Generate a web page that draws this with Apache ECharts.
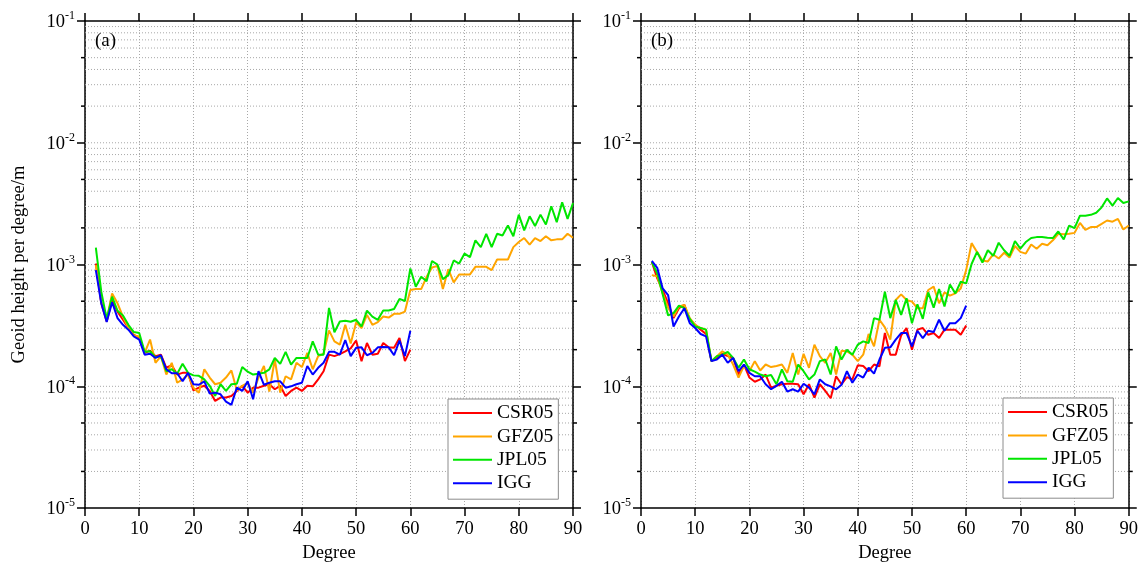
<!DOCTYPE html>
<html><head><meta charset="utf-8">
<script src="https://cdn.jsdelivr.net/npm/echarts@6/dist/echarts.min.js"></script>
<style>html,body{margin:0;padding:0;background:#fff}#c{width:1141px;height:568px}</style>
</head><body><div id="c"></div><script>
// ---------- data ----------
const degrees = [2,3,4,5,6,7,8,9,10,11,12,13,14,15,16,17,18,19,20,21,22,23,24,25,26,27,28,29,30,31,32,33,34,35,36,37,38,39,40,41,42,43,44,45,46,47,48,49,50,51,52,53,54,55,56,57,58,59,60,61,62,63,64,65,66,67,68,69,70,71,72,73,74,75,76,77,78,79,80,81,82,83,84,85,86,87,88,89,90];

// panel (a)
const csrA = [1.02e-3,4.81e-4,3.41e-4,5.12e-4,4.11e-4,3.52e-4,3.01e-4,2.65e-4,2.52e-4,
  1.88e-4,1.96e-4,1.77e-4,1.82e-4,1.42e-4,1.49e-4,1.25e-4,1.29e-4,1.29e-4,9.27e-5,
  9.75e-5,1.01e-4,9.16e-5,7.59e-5,8.09e-5,8.09e-5,8.34e-5,9.16e-5,1.01e-4,8.87e-5,
  9.75e-5,9.75e-5,1.01e-4,1.04e-4,9.46e-5,1.01e-4,8.34e-5,9.16e-5,9.75e-5,9.16e-5,
  1.01e-4,1.0e-4,1.14e-4,1.33e-4,1.82e-4,1.77e-4,1.84e-4,1.94e-4,2.05e-4,2.38e-4,
  1.61e-4,2.27e-4,1.82e-4,1.85e-4,2.27e-4,2.09e-4,2.07e-4,2.49e-4,1.61e-4,2.0e-4];
const gfzA = [9.9e-4,4.96e-4,3.52e-4,5.8e-4,4.81e-4,3.74e-4,3.01e-4,2.62e-4,2.57e-4,
  1.88e-4,2.42e-4,1.56e-4,1.77e-4,1.25e-4,1.56e-4,1.07e-4,1.14e-4,1.25e-4,9.75e-5,
  8.87e-5,1.38e-4,1.18e-4,1.04e-4,1.07e-4,1.18e-4,1.35e-4,9.27e-5,1.01e-4,1.07e-4,
  8.87e-5,1.18e-4,1.47e-4,9.05e-5,1.66e-4,8.87e-5,1.21e-4,1.14e-4,1.56e-4,1.44e-4,
  1.88e-4,1.38e-4,1.77e-4,1.85e-4,2.88e-4,2.34e-4,2.2e-4,3.2e-4,2.25e-4,3.35e-4,
  3.01e-4,3.86e-4,3.2e-4,3.37e-4,3.74e-4,3.67e-4,3.94e-4,3.94e-4,4.11e-4,6.18e-4,
  6.29e-4,6.29e-4,7.93e-4,9.46e-4,9.75e-4,6.29e-4,9.16e-4,7.13e-4,8.28e-4,8.28e-4,
  8.3e-4,9.57e-4,9.57e-4,9.57e-4,9.0e-4,1.1e-3,1.1e-3,1.1e-3,1.39e-3,1.53e-3,
  1.65e-3,1.46e-3,1.65e-3,1.56e-3,1.71e-3,1.58e-3,1.61e-3,1.61e-3,1.79e-3,1.66e-3];
const jplA = [1.38e-3,5.98e-4,3.58e-4,5.45e-4,4.17e-4,3.82e-4,3.2e-4,2.79e-4,2.74e-4,
  1.92e-4,1.94e-4,1.73e-4,1.77e-4,1.33e-4,1.38e-4,1.27e-4,1.53e-4,1.29e-4,1.23e-4,
  1.22e-4,1.14e-4,1.01e-4,8.34e-5,1.04e-4,9.16e-5,1.04e-4,1.05e-4,1.44e-4,1.32e-4,
  1.25e-4,1.27e-4,1.29e-4,1.38e-4,1.71e-4,1.53e-4,1.92e-4,1.51e-4,1.71e-4,1.71e-4,
  1.71e-4,2.34e-4,1.82e-4,1.82e-4,4.4e-4,2.78e-4,3.41e-4,3.46e-4,3.39e-4,3.52e-4,
  3.1e-4,4.19e-4,3.74e-4,3.52e-4,4.19e-4,4.19e-4,4.32e-4,5.22e-4,5.02e-4,9.28e-4,
  6.58e-4,7.93e-4,7.31e-4,1.07e-3,1.0e-3,7.59e-4,8.19e-4,1.08e-3,1.02e-3,1.23e-3,
  1.15e-3,1.58e-3,1.39e-3,1.79e-3,1.39e-3,1.79e-3,1.73e-3,2.09e-3,1.71e-3,2.57e-3,
  1.91e-3,2.49e-3,2.07e-3,2.57e-3,2.13e-3,3.01e-3,2.23e-3,3.24e-3,2.37e-3,3.2e-3];
const iggA = [8.99e-4,4.81e-4,3.37e-4,4.9e-4,3.63e-4,3.2e-4,2.92e-4,2.57e-4,2.42e-4,
  1.82e-4,1.85e-4,1.71e-4,1.8e-4,1.38e-4,1.28e-4,1.28e-4,1.1e-4,1.29e-4,1.04e-4,
  1.03e-4,1.1e-4,8.71e-5,8.87e-5,8.6e-5,7.5e-5,7.05e-5,9.75e-5,9.16e-5,1.1e-4,
  7.83e-5,1.33e-4,1.03e-4,1.07e-4,1.1e-4,1.1e-4,9.75e-5,1.0e-4,1.04e-4,1.07e-4,
  1.47e-4,1.25e-4,1.42e-4,1.56e-4,1.92e-4,1.92e-4,1.82e-4,2.4e-4,1.77e-4,2.07e-4,
  2.09e-4,1.8e-4,1.88e-4,2.09e-4,2.1e-4,2.09e-4,1.8e-4,2.37e-4,1.77e-4,2.86e-4];

// panel (b)
const csrB = [1.05e-3,7.69e-4,6.18e-4,4.81e-4,3.63e-4,4.38e-4,4.66e-4,3.52e-4,3.2e-4,
  2.92e-4,2.69e-4,1.61e-4,1.71e-4,1.85e-4,1.77e-4,1.71e-4,1.25e-4,1.51e-4,1.18e-4,
  1.09e-4,1.14e-4,1.25e-4,9.75e-5,1.01e-4,1.04e-4,1.05e-4,1.05e-4,1.04e-4,8.6e-5,
  1.04e-4,8.09e-5,1.04e-4,9.16e-5,7.98e-5,1.21e-4,1.04e-4,1.19e-4,1.14e-4,1.49e-4,
  1.47e-4,1.33e-4,1.51e-4,1.46e-4,2.74e-4,1.82e-4,1.82e-4,2.62e-4,3.01e-4,2.0e-4,
  2.92e-4,3.01e-4,2.65e-4,2.74e-4,2.49e-4,2.92e-4,2.92e-4,2.92e-4,2.65e-4,3.16e-4];
const gfzB = [8.19e-4,8.03e-4,5.8e-4,4.43e-4,3.74e-4,4.52e-4,4.66e-4,3.63e-4,3.2e-4,
  3.01e-4,2.92e-4,1.61e-4,1.77e-4,1.94e-4,1.82e-4,1.51e-4,1.18e-4,1.47e-4,1.33e-4,
  1.61e-4,1.35e-4,1.51e-4,1.44e-4,1.47e-4,1.51e-4,1.29e-4,1.88e-4,1.25e-4,1.85e-4,
  1.42e-4,2.2e-4,1.77e-4,1.56e-4,1.88e-4,1.25e-4,1.96e-4,1.94e-4,1.82e-4,1.61e-4,
  1.82e-4,2.69e-4,2.13e-4,3.52e-4,3.05e-4,2.42e-4,5.12e-4,5.69e-4,5.12e-4,4.96e-4,
  4.38e-4,4.38e-4,6.18e-4,6.58e-4,4.81e-4,5.91e-4,5.55e-4,5.8e-4,6.37e-4,9.0e-4,
  1.5e-3,1.27e-3,1.08e-3,1.06e-3,1.21e-3,1.12e-3,1.25e-3,1.14e-3,1.42e-3,1.27e-3,
  1.23e-3,1.46e-3,1.35e-3,1.48e-3,1.44e-3,1.58e-3,1.79e-3,1.77e-3,1.79e-3,1.82e-3,
  2.2e-3,1.93e-3,2.03e-3,2.03e-3,2.16e-3,2.3e-3,2.25e-3,2.37e-3,1.94e-3,2.09e-3];
const jplB = [1.05e-3,8.45e-4,5.69e-4,3.82e-4,3.99e-4,4.6e-4,4.38e-4,3.58e-4,3.1e-4,
  3.01e-4,2.92e-4,1.61e-4,1.77e-4,1.82e-4,1.92e-4,1.71e-4,1.42e-4,1.66e-4,1.38e-4,
  1.32e-4,1.25e-4,1.21e-4,1.24e-4,1.04e-4,1.38e-4,1.1e-4,1.09e-4,1.51e-4,1.33e-4,
  1.14e-4,1.25e-4,1.61e-4,1.66e-4,1.25e-4,2.13e-4,1.66e-4,2.0e-4,1.82e-4,2.2e-4,
  2.34e-4,2.27e-4,3.63e-4,3.52e-4,5.98e-4,3.63e-4,5.12e-4,3.86e-4,5.28e-4,3.3e-4,
  4.72e-4,3.58e-4,5.91e-4,4.43e-4,6.29e-4,4.52e-4,6.87e-4,5.8e-4,7.22e-4,7.0e-4,
  1.01e-3,1.27e-3,1.04e-3,1.31e-3,1.18e-3,1.51e-3,1.31e-3,1.18e-3,1.56e-3,1.35e-3,
  1.53e-3,1.65e-3,1.68e-3,1.68e-3,1.66e-3,1.65e-3,1.87e-3,1.61e-3,2.09e-3,1.99e-3,
  2.52e-3,2.52e-3,2.56e-3,2.66e-3,2.95e-3,3.49e-3,3.05e-3,3.52e-3,3.2e-3,3.3e-3];
const iggB = [1.07e-3,9.39e-4,6.37e-4,5.62e-4,3.1e-4,3.74e-4,4.38e-4,3.3e-4,3.01e-4,
  2.69e-4,2.57e-4,1.61e-4,1.66e-4,1.82e-4,1.56e-4,1.71e-4,1.33e-4,1.51e-4,1.29e-4,
  1.21e-4,1.21e-4,1.04e-4,9.46e-5,1.01e-4,1.09e-4,9.05e-5,9.46e-5,9.05e-5,1.05e-4,
  9.75e-5,8.6e-5,1.14e-4,1.04e-4,1.0e-4,9.46e-5,1.03e-4,1.33e-4,1.07e-4,1.25e-4,
  1.18e-4,1.42e-4,1.27e-4,1.66e-4,2.07e-4,2.09e-4,2.42e-4,2.74e-4,2.74e-4,2.13e-4,
  2.86e-4,2.49e-4,2.86e-4,2.79e-4,3.52e-4,2.86e-4,3.3e-4,3.3e-4,3.63e-4,4.6e-4];

const seriesNames = ['CSR05', 'GFZ05', 'JPL05', 'IGG'];
const seriesColors = ['#ff0000', '#ffa500', '#00e600', '#0000ff'];
const panelData = [[csrA, gfzA, jplA, iggA], [csrB, gfzB, jplB, iggB]];
const panelLabels = ['(a)', '(b)'];
const xName = 'Degree';
const yName = 'Geoid height per degree/m';
const xMin = 0, xMax = 90, xInterval = 10;
const yMin = 1e-5, yMax = 1e-1;
const minorTickMantissas = [2, 5];
const gridMantissas = [1, 2, 3, 4, 5, 6, 7, 8, 9];
const exponents = [-5, -4, -3, -2];

// ---------- derived helpers ----------
const gridVals = [];
exponents.forEach(e => gridMantissas.forEach(m => {
  const v = m * Math.pow(10, e);
  if (v > yMin * 1.0001) gridVals.push(v);
}));
const minorTickVals = [];
exponents.forEach(e => minorTickMantissas.forEach(m => minorTickVals.push(m * Math.pow(10, e))));

const FF = '"Liberation Serif","Times New Roman",serif';
const grids = [
  { left: 85, top: 21, width: 488, height: 490 },
  { left: 641, top: 21, width: 488, height: 490 }
];

const chart = echarts.init(document.getElementById('c'), null, { renderer: 'canvas' });

const xAxes = [], yAxes = [], series = [];
const axisLineStyle = { color: '#000', width: 1.5 };
grids.forEach((g, gi) => {
  xAxes.push({
    type: 'value', gridIndex: gi, min: xMin, max: xMax, interval: xInterval, position: 'bottom',
    axisLine: { show: true, onZero: false, lineStyle: axisLineStyle },
    axisTick: { show: true, inside: false, length: 8, lineStyle: { color: '#000', width: 1.5 } },
    axisLabel: { color: '#000', fontFamily: FF, fontSize: 18.5, margin: 12 },
    splitLine: { show: true, lineStyle: { color: '#a8a8a8', width: 1, type: [1, 2] } },
    name: xName, nameLocation: 'middle', nameGap: 34,
    nameTextStyle: { color: '#000', fontFamily: FF, fontSize: 18.5 }
  });
  xAxes.push({
    type: 'value', gridIndex: gi, min: xMin, max: xMax, interval: xInterval, position: 'top',
    axisLine: { show: true, onZero: false, lineStyle: axisLineStyle },
    axisTick: { show: true, inside: false, length: 8, lineStyle: { color: '#000', width: 1.5 } },
    axisLabel: { show: false }, splitLine: { show: false }
  });
  yAxes.push({
    type: 'log', logBase: 10, gridIndex: gi, min: yMin, max: yMax, position: 'left',
    axisLine: { show: true, onZero: false, lineStyle: axisLineStyle },
    axisTick: { show: true, inside: false, length: 8, lineStyle: { color: '#000', width: 1.5 } },
    axisLabel: {
      margin: 10,
      formatter: v => '{b|10}{s|' + Math.round(Math.log10(v)) + '}',
      rich: {
        b: { fontFamily: FF, fontSize: 18.5, color: '#000', verticalAlign: 'bottom', lineHeight: 22 },
        s: { fontFamily: FF, fontSize: 12, color: '#000', verticalAlign: 'top', lineHeight: 12 }
      }
    },
    splitLine: { show: false },
    name: gi === 0 ? yName : '', nameLocation: 'middle', nameGap: 56, nameRotate: 90,
    nameTextStyle: { color: '#000', fontFamily: FF, fontSize: 18.5 }
  });
  yAxes.push({
    type: 'log', logBase: 10, gridIndex: gi, min: yMin, max: yMax, position: 'right',
    axisLine: { show: true, onZero: false, lineStyle: axisLineStyle },
    axisTick: { show: true, inside: false, length: 8, lineStyle: { color: '#000', width: 1.5 } },
    axisLabel: { show: false }, splitLine: { show: false }
  });

  const xi = gi * 2, yi = gi * 2;
  // horizontal dotted grid lines (major + minor)
  series.push({
    type: 'custom', xAxisIndex: xi, yAxisIndex: yi, silent: true, z: 1, clip: false,
    data: gridVals.map(v => [xMin, v]),
    renderItem: (params, api) => {
      const y = api.value(1);
      const a = api.coord([xMin, y]), b = api.coord([xMax, y]);
      return { type: 'line', shape: { x1: a[0], y1: a[1], x2: b[0], y2: b[1] },
        style: { stroke: '#a8a8a8', lineWidth: 1, lineDash: [1, 2] } };
    }
  });
  // minor ticks (2 and 5 x 10^k) on left and right axes, outward
  series.push({
    type: 'custom', xAxisIndex: xi, yAxisIndex: yi, silent: true, z: 6, clip: false,
    data: minorTickVals.map(v => [xMin, v]),
    renderItem: (params, api) => {
      const y = api.value(1);
      const a = api.coord([xMin, y]), b = api.coord([xMax, y]);
      return { type: 'group', children: [
        { type: 'line', shape: { x1: a[0] - 4, y1: a[1], x2: a[0], y2: a[1] }, style: { stroke: '#000', lineWidth: 1.5 } },
        { type: 'line', shape: { x1: b[0], y1: b[1], x2: b[0] + 4, y2: b[1] }, style: { stroke: '#000', lineWidth: 1.5 } }
      ] };
    }
  });
  panelData[gi].forEach((vals, si) => {
    series.push({
      name: seriesNames[si], type: 'line', xAxisIndex: xi, yAxisIndex: yi,
      data: vals.map((v, i) => [degrees[i], v]),
      symbol: 'none', showSymbol: false, z: 3 + si * 0.01,
      lineStyle: { color: seriesColors[si], width: 2 },
      itemStyle: { color: seriesColors[si] },
      emphasis: { disabled: true }
    });
  });
});

const legendCommon = {
  orient: 'vertical', data: seriesNames, icon: 'rect', itemWidth: 39, itemHeight: 2, itemGap: 3.4,
  backgroundColor: '#fff', borderColor: '#8c8c8c', borderWidth: 1, padding: [4, 5, 6, 5],
  textStyle: { fontFamily: FF, fontSize: 19.5, color: '#000', lineHeight: 20 },
  selectedMode: false, z: 10
};

chart.setOption({
  animation: false,
  backgroundColor: '#fff',
  grid: grids,
  xAxis: xAxes,
  yAxis: yAxes,
  legend: [
    Object.assign({}, legendCommon, { left: 448, top: 399 }),
    Object.assign({}, legendCommon, { left: 1003, top: 398 })
  ],
  graphic: [
    { type: 'text', left: 95, top: 32, z: 20, style: { text: panelLabels[0], font: '19px ' + FF, fill: '#000' } },
    { type: 'text', left: 651, top: 32, z: 20, style: { text: panelLabels[1], font: '19px ' + FF, fill: '#000' } }
  ],
  series: series
});
</script></body></html>
